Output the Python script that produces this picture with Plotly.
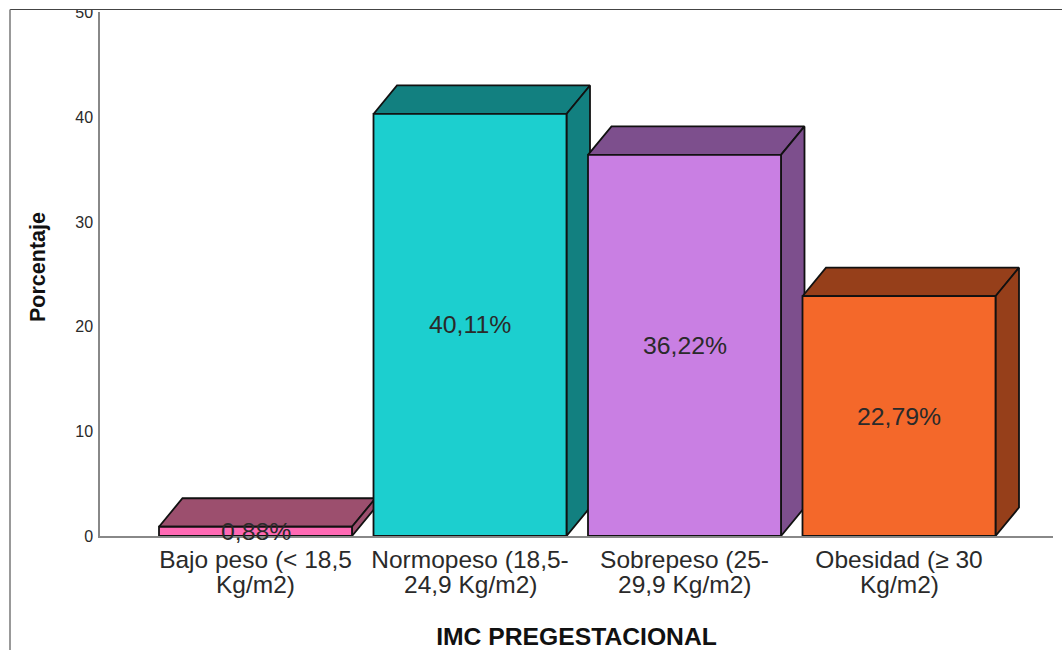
import plotly.graph_objects as go

first_lines = ["Bajo peso (< 18,5", "Normopeso (18,5-", "Sobrepeso (25-", "Obesidad (≥ 30"]
second_lines = ["Kg/m2)", "24,9 Kg/m2)", "29,9 Kg/m2)", "Kg/m2)"]
values = [0.88, 40.11, 36.22, 22.79]
value_labels = ["0,88%", "40,11%", "36,22%", "22,79%"]
y_ticks = [0, 10, 20, 30, 40, 50]
front_colors = ["#FF69B4", "#1CCFCF", "#C97FE3", "#F4682A"]
shade_colors = ["#9C4F6E", "#128080", "#7D4F8D", "#963F1A"]

W, H = 1062, 650
L, R, T, B = 100, 9, 12, 114
plot_w, plot_h = W - L - R, H - T - B
pitch = 214.5
x_range = [(L - 255.5) / pitch, (W - R - 255.5) / pitch]
tick_range = [0, 50.05]
mark_range = [0, 49.8]
bar_w = 193 / pitch
dx = 23.5 / pitch
dy = 28.5 * mark_range[1] / plot_h
FONT = "Liberation Sans"
EDGE = "#111111"
EDGE_W = 1.8
TEXT = "#2a2a2a"

fig = go.Figure()
positions = list(range(len(values)))

# top and side faces of each bar, derived from its value
for i, v in zip(positions, values):
    x0, x1 = i - bar_w / 2, i + bar_w / 2
    fig.add_trace(go.Scatter(
        x=[x0, x0 + dx, x1 + dx, x1, x0], y=[v, v + dy, v + dy, v, v],
        mode="lines", fill="toself", fillcolor=shade_colors[i], xaxis="x2", yaxis="y2",
        line=dict(color=EDGE, width=EDGE_W), hoverinfo="skip", showlegend=False, cliponaxis=False))
    fig.add_trace(go.Scatter(
        x=[x1, x1 + dx, x1 + dx, x1, x1], y=[0, dy, v + dy, v, 0],
        mode="lines", fill="toself", fillcolor=shade_colors[i], xaxis="x2", yaxis="y2",
        line=dict(color=EDGE, width=EDGE_W), hoverinfo="skip", showlegend=False, cliponaxis=False))

# front faces on a further overlaid axis pair, so they sit above the depth faces
fig.add_trace(go.Bar(
    x=positions, y=values, width=bar_w, marker=dict(color=front_colors, line=dict(color=EDGE, width=EDGE_W)),
    xaxis="x3", yaxis="y3", showlegend=False, cliponaxis=False))

annotations = [
    dict(x=i, y=(536 - 584) / plot_h, xref="x", yref="paper", text=t, showarrow=False,
         xanchor="center", yanchor="middle", font=dict(family=FONT, size=24.5, color=TEXT))
    for i, t in zip(positions, second_lines)
]
annotations += [
    dict(x=i, y=v / 2, xref="x3", yref="y3", text=t, showarrow=False,
         xanchor="center", yanchor="middle", font=dict(family=FONT, size=24.8, color=TEXT))
    for i, v, t in zip(positions, values, value_labels)
]

px = lambda p: (p - L) / plot_w
py = lambda p: (H - B - p) / plot_h
annotations.append(dict(x=px(38), y=py(267), xref="paper", yref="paper", text="<b>Porcentaje</b>",
                        textangle=-90, showarrow=False, xanchor="center", yanchor="middle",
                        font=dict(family=FONT, size=21.5, color="#111111")))
shapes = [
    # mask above the frame: the reference cuts off the top of the "50" label
    dict(type="rect", xref="paper", yref="paper", x0=px(0), x1=px(W), y0=py(9.5), y1=py(0),
         fillcolor="white", line=dict(width=0), layer="above"),
    dict(type="line", xref="paper", yref="paper", x0=px(10), x1=px(W), y0=py(9.5), y1=py(9.5),
         line=dict(color="#444444", width=1.2), layer="above"),
    dict(type="line", xref="paper", yref="paper", x0=px(10), x1=px(10), y0=py(9.5), y1=py(H),
         line=dict(color="#777777", width=1.5), layer="above"),
]

fig.update_layout(
    width=W, height=H, margin=dict(l=L, r=R, t=T, b=B, autoexpand=False),
    paper_bgcolor="white", plot_bgcolor="white", font=dict(family=FONT, color=TEXT),
    showlegend=False, annotations=annotations, shapes=shapes,
    xaxis=dict(range=x_range, tickmode="array", tickvals=positions, ticktext=first_lines,
               tickfont=dict(family=FONT, size=24.5, color=TEXT), ticks="", ticklabelstandoff=1,
               showgrid=False, zeroline=False, showline=True, linecolor="#888888", linewidth=1.5,
               title=dict(text="<b>IMC PREGESTACIONAL</b>", standoff=59,
                          font=dict(family=FONT, size=24.7, color="#111111"))),
    yaxis=dict(range=tick_range, tickmode="array", tickvals=y_ticks,
               tickfont=dict(family=FONT, size=16, color=TEXT), ticks="", ticklabelstandoff=2,
               showgrid=False, zeroline=False, showline=True, linecolor="#888888", linewidth=1.5),
    xaxis2=dict(range=x_range, overlaying="x", visible=False),
    yaxis2=dict(range=mark_range, overlaying="y", visible=False),
    xaxis3=dict(range=x_range, overlaying="x", visible=False),
    yaxis3=dict(range=mark_range, overlaying="y", visible=False),
)
fig.write_html("out.html", config=dict(displayModeBar=False),
               post_script="document.body.style.margin='0';")
